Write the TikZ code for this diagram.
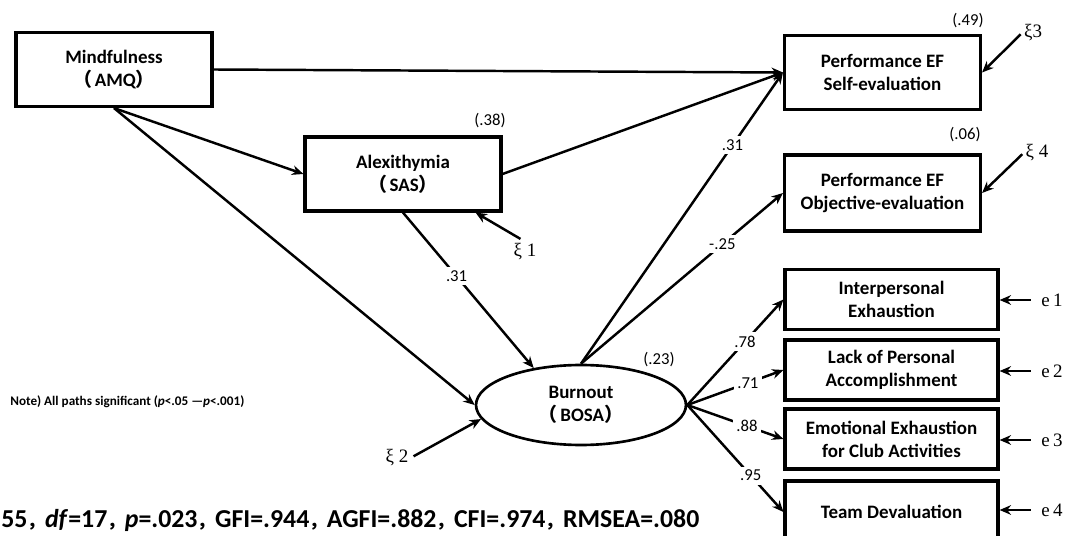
\documentclass[tikz,border=0pt]{standalone}
\usepackage{fontspec}
\setmainfont{Carlito}
\newfontfamily\cjk{Noto Sans CJK SC}
\newfontfamily\tms{Liberation Serif}
\usetikzlibrary{arrows.meta,shapes.geometric,positioning}
\newcommand\fwl{{\cjk （}\hspace{1.5pt}}
\newcommand\fwr{{\cjk ）}}
\newcommand\fwc{{\cjk\fontsize{10}{12}\selectfont ，}}

\begin{document}
\begin{tikzpicture}[
  x=0.02cm, y=-0.02cm,
  font=\fontsize{10.8}{13}\selectfont,
  var/.style={draw, line width=1.8pt, inner sep=0pt, align=center,
    minimum width=3.92cm, minimum height=1.48cm, font=\fontsize{10.8}{13}\selectfont\bfseries},
  ind/.style={minimum width=4.26cm, minimum height=1.2cm},
  lat/.style={draw, ellipse, line width=1.5pt, inner sep=0pt, align=center,
    minimum width=4.2cm, minimum height=1.6cm, font=\fontsize{10.8}{13}\selectfont\bfseries},
  arr/.style={-{Stealth[length=6.5pt, width=5.5pt]}, line width=1.4pt},
  coef/.style={fill=white, inner sep=2pt, font=\fontsize{9.5}{11}\selectfont},
  rsq/.style={font=\fontsize{9.5}{11}\selectfont},
  err/.style={font=\fontsize{10.8}{12}\selectfont\tms, inner sep=1pt},
]
\clip (0,0) rectangle (1074,536);
% observed variables
\node[var] (mind) at (114,69.5) {Mindfulness\\\fwl AMQ\fwr};
\node[var] (alex) at (403,174) {Alexithymia\\\fwl SAS\fwr};
\node[var] (self) at (882.5,72.5) {Performance EF\\Self-evaluation};
\node[var, minimum height=1.52cm] (obj) at (882.5,193) {Performance EF\\Objective-evaluation};
\node[lat] (burn) at (581,405) {Burnout\\\fwl BOSA\fwr};
\foreach \n/\y/\lab in {inter/299.5/{Interpersonal\\Exhaustion},
    lack/370/{Lack of Personal\\Accomplishment},
    emo/439/{Emotional Exhaustion\\for Club Activities}}
  \node[var, ind] (\n) at (891.5,\y) {\lab};
\node[var, ind, minimum height=1.24cm] (team) at (891.5,512) {Team Devaluation};
% explained variance
\node[rsq] (r1) at (490,121) {(.38)};
\node[rsq] (r2) at (968,21) {(.49)};
\node[rsq] (r3) at (965,135) {(.06)};
\node[rsq] (r4) at (659,360) {(.23)};
% structural paths
\draw[arr] (mind.east) -- (self.west);
\draw[arr] (mind.south) -- (alex.west);
\draw[arr] (mind.south) -- (burn.west);
\draw[arr] (alex.east) -- (self.west);
\draw[arr] (alex.south) -- node[coef, pos=0.41] {.31} (burn.142);
\draw[arr] (burn.north) -- node[coef, pos=0.75] {.31} (self.west);
\draw[arr] (burn.north) -- node[coef, pos=0.7] {-.25} (obj.west);
\foreach \n/\c/\p in {inter/.78/0.6, lack/.71/0.63, emo/.88/0.62, team/.95/0.66}
  \draw[arr] (burn.east) -- node[coef, pos=\p] {\c} (\n.west);
% disturbances
\node[err] (x1) at (525,252) {ξ 1};
\node[err] (x2) at (397,458) {ξ 2};
\node[err] (x3) at (1033,33) {ξ3};
\node[err] (x4) at (1037,153) {ξ 4};
\draw[arr, shorten <=3pt] (x1.north) -- (alex.-28);
\draw[arr, shorten <=2pt] (x2.east) -- (burn.188);
\draw[arr, shorten <=1pt] (x3.west) -- (self.east);
\draw[arr, shorten <=1pt] (x4.west) -- (obj.east);
\foreach \n/\i/\y in {inter/1/300, lack/2/371, emo/3/440, team/4/510} {
  \node[err] (e\i) at (1052,\y) {e\,\i};
  \draw[arr, shorten <=5pt] (e\i.west) -- (\n.east |- e\i.west);
}
% note and fit indices
\node[anchor=west, inner sep=0pt, font=\fontsize{7.5}{9}\selectfont\bfseries] (note) at (10,402)
  {Note) All paths significant (\textit{p}<.05 —\textit{p}<.001)};
\node[anchor=base west, inner sep=0pt, font=\fontsize{14.7}{17}\selectfont\bfseries] (fit) at (1,527)
  {55\fwc\textit{df}=17\fwc\textit{p}=.023\fwc GFI=.944\fwc AGFI=.882\fwc CFI=.974\fwc RMSEA=.080};
\end{tikzpicture}
\end{document}
